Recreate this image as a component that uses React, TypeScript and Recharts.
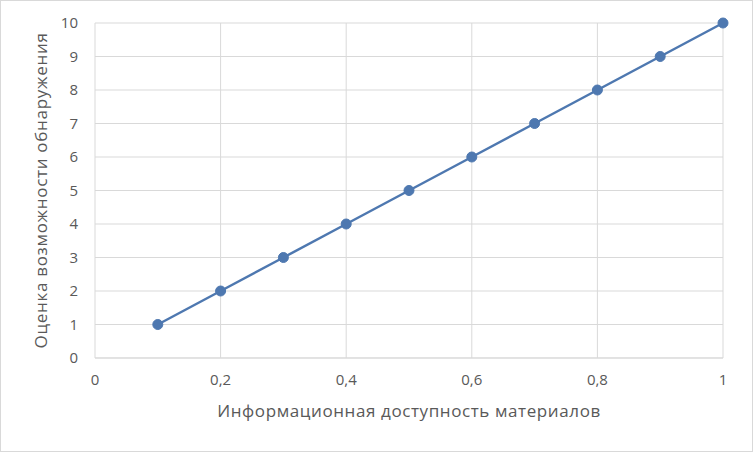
import React from 'react';
import { LineChart, Line, XAxis, YAxis, CartesianGrid, Label } from 'recharts';

const accessibility = [0.1, 0.2, 0.3, 0.4, 0.5, 0.6, 0.7, 0.8, 0.9, 1];
const detectionScore = [1, 2, 3, 4, 5, 6, 7, 8, 9, 10];
const xTicks = [0, 0.2, 0.4, 0.6, 0.8, 1];
const yTicks = [0, 1, 2, 3, 4, 5, 6, 7, 8, 9, 10];

const xTitle = 'Информационная доступность материалов';
const yTitle = 'Оценка возможности обнаружения';

const data = accessibility.map((x, i) => ({ x, y: detectionScore[i] }));

const FONT = '"Open Sans", "Noto Sans", sans-serif';
const TEXT = '#595959';
const GRID = '#d9d9d9';
const LINE = '#4e78b0';

export default function App() {
  return (
    <div style={{ position: 'absolute', left: 0, top: 0, width: 753, height: 452, background: '#fff' }}>
      <div
        style={{
          position: 'absolute',
          left: 0,
          top: 0,
          width: 751,
          height: 450,
          border: `1px solid ${GRID}`,
        }}
      />
      <LineChart
        width={753}
        height={452}
        data={data}
        margin={{ top: 23, right: 30, bottom: 0, left: 0 }}
        style={{ fontFamily: FONT }}
      >
        <CartesianGrid stroke={GRID} strokeWidth={1} />
        <XAxis
          dataKey="x"
          type="number"
          domain={[0, 1]}
          ticks={xTicks}
          tickFormatter={(v: number) => String(v).replace('.', ',')}
          height={94}
          axisLine={{ stroke: GRID }}
          tickLine={false}
          tickSize={0}
          tickMargin={16}
          tick={{ fill: TEXT, fontSize: 15 }}
        >
          <Label
            content={({ viewBox }: any) => (
              <text
                x={viewBox.x + viewBox.width / 2}
                y={417}
                textAnchor="middle"
                fill={TEXT}
                fontSize={17}
                letterSpacing={0.6}
                fontFamily={FONT}
              >
                {xTitle}
              </text>
            )}
          />
        </XAxis>
        <YAxis
          type="number"
          domain={[0, 10]}
          ticks={yTicks}
          width={95}
          axisLine={false}
          tickLine={false}
          tickSize={0}
          tickMargin={17}
          tick={{ fill: TEXT, fontSize: 15 }}
        >
          <Label
            content={({ viewBox }: any) => {
              const cx = 47;
              const cy = viewBox.y + viewBox.height / 2;
              return (
                <text
                  x={cx}
                  y={cy}
                  transform={`rotate(-90 ${cx} ${cy})`}
                  textAnchor="middle"
                  fill={TEXT}
                  fontSize={17}
                  letterSpacing={0.7}
                  fontFamily={FONT}
                >
                  {yTitle}
                </text>
              );
            }}
          />
        </YAxis>
        <Line
          dataKey="y"
          stroke={LINE}
          strokeWidth={2.5}
          dot={{ r: 5, fill: LINE, stroke: LINE, strokeWidth: 1 }}
          isAnimationActive={false}
        />
      </LineChart>
    </div>
  );
}
